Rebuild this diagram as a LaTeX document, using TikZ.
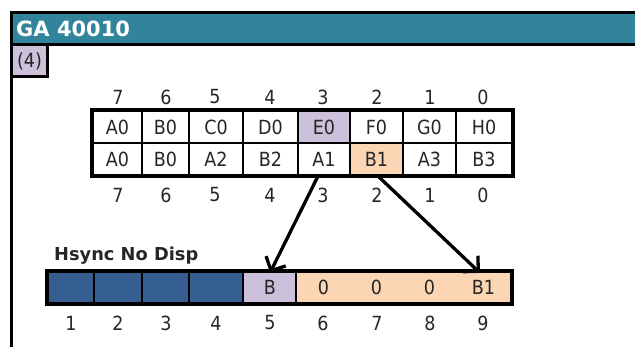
\documentclass[tikz,border=0pt]{standalone}
\usepackage{fontspec}
\usetikzlibrary{arrows.meta}
\setmainfont{DejaVu Sans}
\newfontfamily\cellfam{DejaVu Sans Condensed}
\newfontfamily\boldfam{DejaVu Sans}[BoldFont={DejaVu Sans Bold}]
\definecolor{teal1}{HTML}{31849B}
\definecolor{lav}{HTML}{CCC0DA}
\definecolor{peach}{HTML}{FCD5B4}
\definecolor{navy1}{HTML}{365F91}
\tikzset{
  cell/.style={draw=black, line width=2.2pt, minimum height=32pt, inner sep=0pt,
    font=\cellfam\fontsize{19.5}{22}\selectfont, text=black!85},
  bcell/.style={cell, minimum height=31pt},
  ocell/.style={bcell, draw=none, fill=peach},
  numlab/.style={font=\cellfam\fontsize{19.5}{22}\selectfont, text=black!85, inner sep=0pt},
  arr/.style={line width=3.3pt, -{Straight Barb[length=11pt, width=22pt, line width=3.3pt]}},
}
\begin{document}
\begin{tikzpicture}[x=1pt, y=-1pt]
\useasboundingbox (0,0) rectangle (635,347);
% title bar
\fill[teal1] (11,13) rectangle (645,44.5);
\draw[line width=3pt] (11,13) -- (645,13);
\draw[line width=3pt] (11,44.5) -- (645,44.5);
\draw[line width=3pt] (11,11.5) -- (11,347);
\node[anchor=west, inner sep=0pt, text=white, font=\boldfam\bfseries\fontsize{21}{25}\selectfont] (title) at (16,29) {GA 40010};
% (4) box
\fill[lav] (12.5,46) rectangle (47.5,76.5);
\draw[line width=3pt] (47.5,44.5) -- (47.5,76.5) -- (11,76.5);
\node[numlab] (step4) at (29.5,61.5) {(4)};
% top table
\node[cell, minimum width=49pt] (a1) at (117.5,127) {A0};
\node[cell, minimum width=47pt] (a2) at (165.5,127) {B0};
\node[cell, minimum width=54pt] (a3) at (216,127) {C0};
\node[cell, minimum width=55pt] (a4) at (270.5,127) {D0};
\node[cell, minimum width=52pt, fill=lav] (a5) at (324,127) {E0};
\node[cell, minimum width=53pt] (a6) at (376.5,127) {F0};
\node[cell, minimum width=53pt] (a7) at (429.5,127) {G0};
\node[cell, minimum width=56pt] (a8) at (484,127) {H0};
\node[cell, minimum width=49pt] (b1) at (117.5,159) {A0};
\node[cell, minimum width=47pt] (b2) at (165.5,159) {B0};
\node[cell, minimum width=54pt] (b3) at (216,159) {A2};
\node[cell, minimum width=55pt] (b4) at (270.5,159) {B2};
\node[cell, minimum width=52pt] (b5) at (324,159) {A1};
\node[cell, minimum width=53pt, fill=peach] (b6) at (376.5,159) {B1};
\node[cell, minimum width=53pt] (b7) at (429.5,159) {A3};
\node[cell, minimum width=56pt] (b8) at (484,159) {B3};
\draw[line width=3.4pt] (a1.north west) rectangle (b8.south east);
% top numbers
\foreach \x/\n/\k in {118/7/1,166/6/2,215/5/3,270/4/4,323/3/5,377/2/6,430/1/7,483/0/8}{
  \node[numlab] (tn\k) at (\x,97) {\n};
  \node[numlab] (bn\k) at (\x,195) {\n};
}
% bottom row
\node[anchor=west, inner sep=0pt, font=\boldfam\bfseries\fontsize{17.8}{21}\selectfont, text=black!85] (hs) at (54,256) {Hsync No Disp};
\node[bcell, minimum width=46pt, fill=navy1] (c1) at (71,287.5) {};
\node[bcell, minimum width=48pt, fill=navy1] (c2) at (118,287.5) {};
\node[bcell, minimum width=47pt, fill=navy1] (c3) at (165.5,287.5) {};
\node[bcell, minimum width=54pt, fill=navy1] (c4) at (216,287.5) {};
\node[bcell, minimum width=54pt, fill=lav] (c5) at (270,287.5) {B};
\node[ocell, minimum width=53pt] (c6) at (323.5,287.5) {0};
\node[ocell, minimum width=53pt] (c7) at (376.5,287.5) {0};
\node[ocell, minimum width=53pt] (c8) at (429.5,287.5) {0};
\node[ocell, minimum width=55pt] (c9) at (483.5,287.5) {B1};
\draw[line width=2.2pt] (c6.north west) -- (c6.south west);
\draw[line width=3.4pt] (c1.north west) rectangle (c9.south east);
\foreach \x/\n in {71/1,118/2,166/3,216/4,270/5,323/6,377/7,430/8,483/9}{
  \node[numlab] (cn\n) at (\x,323) {\n};
}
% arrows
\draw[arr] ([xshift=-6pt]b5.south) -- ([yshift=-2pt]c5.north);
\draw[arr] ([xshift=1.5pt]b6.south) -- ([xshift=-3.5pt,yshift=-2pt]c9.north);
\end{tikzpicture}
\end{document}
